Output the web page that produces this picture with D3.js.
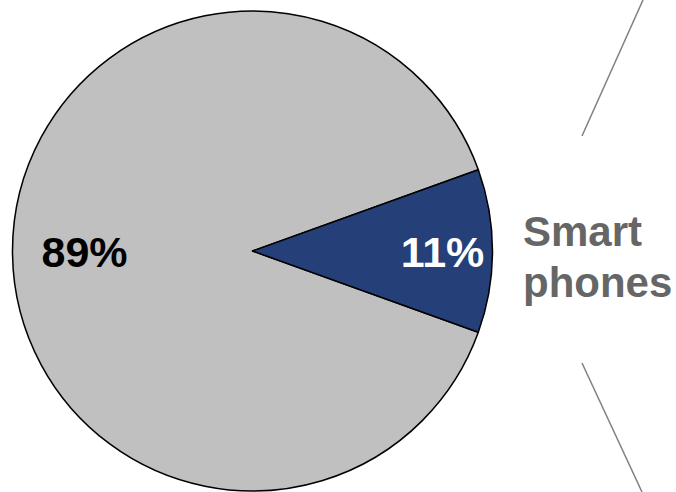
<!DOCTYPE html>
<html>
<head>
<meta charset="utf-8">
<script src="https://cdn.jsdelivr.net/npm/d3@7"></script>
<style>
  html, body { margin: 0; padding: 0; background: #ffffff; }
  svg { display: block; }
  text { font-family: "Liberation Sans", Arial, sans-serif; font-weight: bold; }
</style>
</head>
<body>
<svg id="chart" width="676" height="492"></svg>
<script>
// Share of devices
const categories = ["Smart phones", "Other"];
const shares = [11, 89];
const labels = ["11%", "89%"];
const colors = ["#253f78", "#c0c0c0"];
const labelColors = ["#ffffff", "#000000"];
const labelRadius = [190, 168];

const svg = d3.select("#chart");
const cx = 252.5, cy = 251, radius = 240;

// Smart-phone slice centred on the right-hand side
const span = shares[0] / d3.sum(shares) * 2 * Math.PI;
const pie = d3.pie().sort(null).value(d => d)
  .startAngle(Math.PI / 2 - span / 2)
  .endAngle(Math.PI / 2 - span / 2 + 2 * Math.PI);
const arcs = pie(shares);
const arc = d3.arc().innerRadius(0).outerRadius(radius);

const g = svg.append("g").attr("transform", `translate(${cx},${cy})`);

// Gray slice first so the blue slice outline sits on top
g.selectAll("path.slice")
  .data(arcs.map((a, i) => ({ a, i })).reverse())
  .join("path")
  .attr("class", "slice")
  .attr("d", d => arc(d.a))
  .attr("fill", d => colors[d.i])
  .attr("stroke", "#000000")
  .attr("stroke-width", 1.5)
  .attr("stroke-linejoin", "round");

// Percentage labels
g.selectAll("text.pct")
  .data(arcs)
  .join("text")
  .attr("class", "pct")
  .attr("x", (d, i) => Math.sin((d.startAngle + d.endAngle) / 2) * labelRadius[i])
  .attr("y", (d, i) => -Math.cos((d.startAngle + d.endAngle) / 2) * labelRadius[i] + 16)
  .attr("text-anchor", "middle")
  .attr("font-size", 43)
  .attr("fill", (d, i) => labelColors[i])
  .text((d, i) => labels[i]);

// Callout lines toward the detail breakdown
const leader = [
  [[643, 0], [582, 136]],
  [[582, 363], [642, 492]]
];
svg.selectAll("line.leader")
  .data(leader)
  .join("line")
  .attr("class", "leader")
  .attr("x1", d => d[0][0]).attr("y1", d => d[0][1])
  .attr("x2", d => d[1][0]).attr("y2", d => d[1][1])
  .attr("stroke", "#808080")
  .attr("stroke-width", 1.5);

// Category name
const name = svg.append("text")
  .attr("x", 523)
  .attr("y", 246)
  .attr("font-size", 42)
  .attr("fill", "#666666");
name.append("tspan").attr("x", 523).attr("dy", 0).text("Smart");
name.append("tspan").attr("x", 523).attr("dy", 51).text("phones");
</script>
</body>
</html>
